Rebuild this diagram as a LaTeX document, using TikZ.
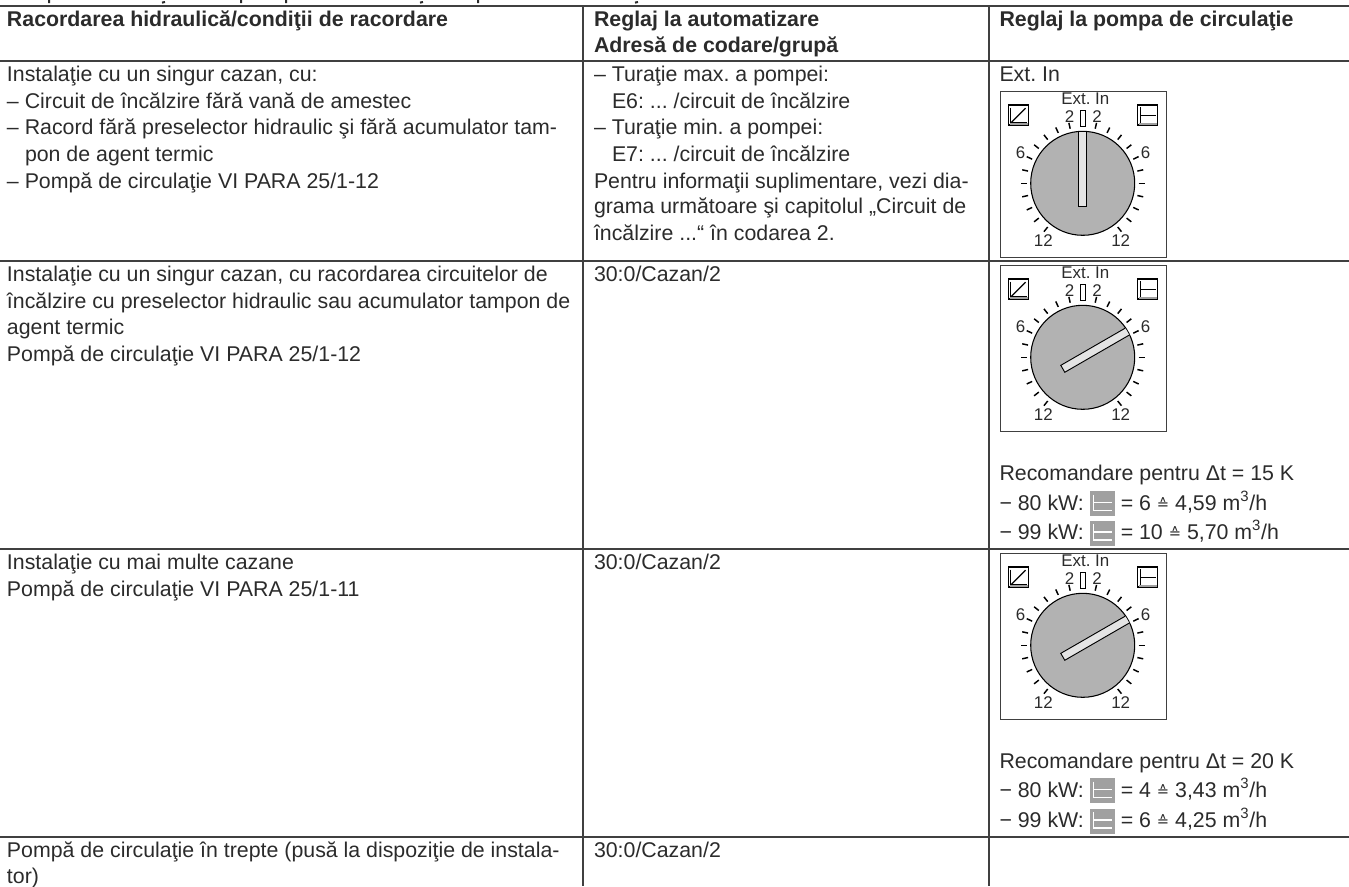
\documentclass[tikz,border=0pt]{standalone}
\usepackage{fontspec}
\setmainfont{Liberation Sans}
\newfontfamily\symfont{DejaVu Sans}
\frenchspacing
\definecolor{txt}{HTML}{2B2B2B}
\definecolor{rule}{HTML}{404040}
\definecolor{dialgray}{HTML}{B2B2B2}
\definecolor{pointer}{HTML}{E4E4E4}
\definecolor{icongray}{HTML}{A0A0A0}
\newcommand{\bodyfont}{\fontsize{16pt}{16pt}\selectfont\frenchspacing}
\newcommand{\dialfont}{\fontsize{12.7pt}{12.7pt}\selectfont\frenchspacing}
\newcommand{\corr}{\raisebox{0.02em}{\symfont\fontsize{11pt}{11pt}\selectfont ≙}}
\newcommand{\graybox}{\tikz[baseline={(0,-0.75pt*18.8)},x=0.75pt,y=-0.75pt]{%
  \fill[icongray] (0,0) rectangle (25,25);
  \draw[white,line width=1.1pt] (3.5,3.5) -- (3.5,19.5) -- (22,19.5);
  \draw[white,line width=1.1pt] (3.5,11.5) -- (22,11.5);}}
\tikzset{
  x=0.75pt,y=-0.75pt,
  tablerule/.style={draw=rule,line width=1.5pt},
  body/.style={anchor=base west,inner sep=0pt,outer sep=0pt,text=txt,font=\bodyfont},
  head/.style={body,font=\bodyfont\bfseries},
  diallabel/.style={inner sep=0pt,outer sep=0pt,text=txt,font=\dialfont},
  tickmark/.style={draw=black,line width=1.1pt},
  iconbox/.style={draw=black,line width=1.2pt,fill=white},
}
\newcommand{\dial}[3]{% name, box top y, pointer angle from up, clockwise
  \begin{scope}[shift={(999.5,#2)}]
    \node[draw=rule,line width=1pt,minimum width=124.5pt,minimum height=124.5pt,inner sep=0pt,anchor=north west] (#1box) at (0,0) {};
    \node[diallabel] (#1ext) at (85.8,8.2) {Ext. In};
    \node[diallabel] (#1twol) at (70,25.5) {2};
    \node[diallabel] (#1twor) at (97.5,25.5) {2};
    \node[diallabel] (#1sixl) at (21,62) {6};
    \node[diallabel] (#1sixr) at (146,62) {6};
    \node[diallabel] (#1twelvel) at (43.8,150) {12};
    \node[diallabel] (#1twelver) at (121.2,150) {12};
    \draw[line width=0.7pt,draw=black] (81,19.5) rectangle (86.4,36);
    \begin{scope}[shift={(83.2,92.6)}]
      \foreach \a in {12.9,25.8,38.7,51.6,64.5,77.4,90,102.6,115.5,128.4,141.3}{
        \draw[tickmark] ({56*sin(\a)},{-56*cos(\a)}) -- ({62*sin(\a)},{-62*cos(\a)});
        \draw[tickmark] ({-56*sin(\a)},{-56*cos(\a)}) -- ({-62*sin(\a)},{-62*cos(\a)});
      }
      \draw[fill=dialgray,draw=black,line width=0.8pt] (0,0) circle (52);
      \begin{scope}[rotate=-#3]
        \fill[pointer] (-4,-51.5) -- (4,-51.5) -- (4,23) -- (-4,23) -- cycle;
        \draw[line width=0.7pt,draw=black] (-4,-51.5) -- (-4,23) -- (4,23) -- (4,-51.5);
      \end{scope}
    \end{scope}
    % slope icon
    \draw[iconbox] (9,14.5) rectangle (29,34.5);
    \draw[draw=black,line width=0.7pt] (11.2,17) -- (11.2,32) -- (27,32);
    \draw[draw=black,line width=0.9pt] (12,31.5) -- (26,17.5);
    \draw[draw=icongray,line width=1pt] (10,33.4) -- (28,33.4);
    % flat icon
    \draw[iconbox] (138,14.5) rectangle (158,34.5);
    \draw[draw=black,line width=0.9pt] (141,16.5) -- (141,32.5);
    \draw[draw=black,line width=0.9pt] (141,24.5) -- (156,24.5);
    \draw[draw=icongray,line width=1pt] (139,33.4) -- (157,33.4);
  \end{scope}
}
\begin{document}
\begin{tikzpicture}
\useasboundingbox (0,0) rectangle (1349,886);
% clipped heading descenders above the table
\draw[draw=txt,line width=1.5pt] (49,0) -- (49,3) (241,0) -- (241,3) (286,0) -- (286,3) (478,0) -- (478,3)
  (165,2) -- (162,2.6) (423,2) -- (420,2.6) (638,2) -- (635,2.6);

% table rules
\draw[tablerule] (0,5.5) -- (1349,5.5);
\draw[tablerule] (0,60.5) -- (1349,60.5);
\draw[tablerule] (0,261) -- (1349,261);
\draw[tablerule] (0,548.7) -- (1349,548.7);
\draw[tablerule] (0,836.7) -- (1349,836.7);
\draw[tablerule] (583,5.5) -- (583,886);
\draw[tablerule] (989,5.5) -- (989,886);

% header
\node[head] (h1) at (7,26) {Racordarea hidraulică/condiţii de racordare};
\node[head] (h2) at (594,26) {Reglaj la automatizare};
\node[head] (h2b) at (594,52.7) {Adresă de codare/grupă};
\node[head] (h3) at (999.5,26) {Reglaj la pompa de circulaţie};

% left column
\node[body] (a1) at (7,81.7) {Instalaţie cu un singur cazan, cu:};
\node[body] (a2) at (7,108) {– Circuit de încălzire fără vană de amestec};
\node[body] (a3) at (7,134.5) {– Racord fără preselector hidraulic şi fără acumulator tam-};
\node[body] (a4) at (25,161) {pon de agent termic};
\node[body] (a5) at (7,188) {– Pompă de circulaţie VI PARA 25/1-12};
\node[body] (b1) at (7,281.5) {Instalaţie cu un singur cazan, cu racordarea circuitelor de};
\node[body] (b2) at (7,308) {încălzire cu preselector hidraulic sau acumulator tampon de};
\node[body] (b3) at (7,334.5) {agent termic};
\node[body] (b4) at (7,361) {Pompă de circulaţie VI PARA 25/1-12};
\node[body] (c1) at (7,569.5) {Instalaţie cu mai multe cazane};
\node[body] (c2) at (7,596) {Pompă de circulaţie VI PARA 25/1-11};
\node[body] (d1) at (7,857) {Pompă de circulaţie în trepte (pusă la dispoziţie de instala-};
\node[body] (d2) at (7,883) {tor)};

% middle column
\node[body] (m1) at (594,81.7) {– Turaţie max. a pompei:};
\node[body] (m2) at (612,108) {E6: ... /circuit de încălzire};
\node[body] (m3) at (594,134.5) {– Turaţie min. a pompei:};
\node[body] (m4) at (612,161) {E7: ... /circuit de încălzire};
\node[body] (m5) at (594,188) {Pentru informaţii suplimentare, vezi dia-};
\node[body] (m6) at (594,213.5) {grama următoare şi capitolul „Circuit de};
\node[body] (m7) at (594,240.7) {încălzire ...“ în codarea 2.};
\node[body] (m10) at (594,281.5) {30:0/Cazan/2};
\node[body] (m8) at (594,569.5) {30:0/Cazan/2};
\node[body] (m9) at (594,857) {30:0/Cazan/2};

% right column
\node[body] (r1) at (999.5,81.7) {Ext. In};
\dial{da}{90.7}{0}
\dial{db}{264.7}{60}
\dial{dc}{552.7}{60}

\node[body] (s1) at (999.5,480) {Recomandare pentru Δt = 15 K};
\node[body] (s2) at (999.5,510) {− 80 kW: \graybox{} = 6 \corr{} 4,59 m\textsuperscript{3}/h};
\node[body] (s3) at (999.5,539.3) {− 99 kW: \graybox{} = 10 \corr{} 5,70 m\textsuperscript{3}/h};
\node[body] (t1) at (999.5,768.3) {Recomandare pentru Δt = 20 K};
\node[body] (t2) at (999.5,797) {− 80 kW: \graybox{} = 4 \corr{} 3,43 m\textsuperscript{3}/h};
\node[body] (t3) at (999.5,827.3) {− 99 kW: \graybox{} = 6 \corr{} 4,25 m\textsuperscript{3}/h};
\end{tikzpicture}
\end{document}
